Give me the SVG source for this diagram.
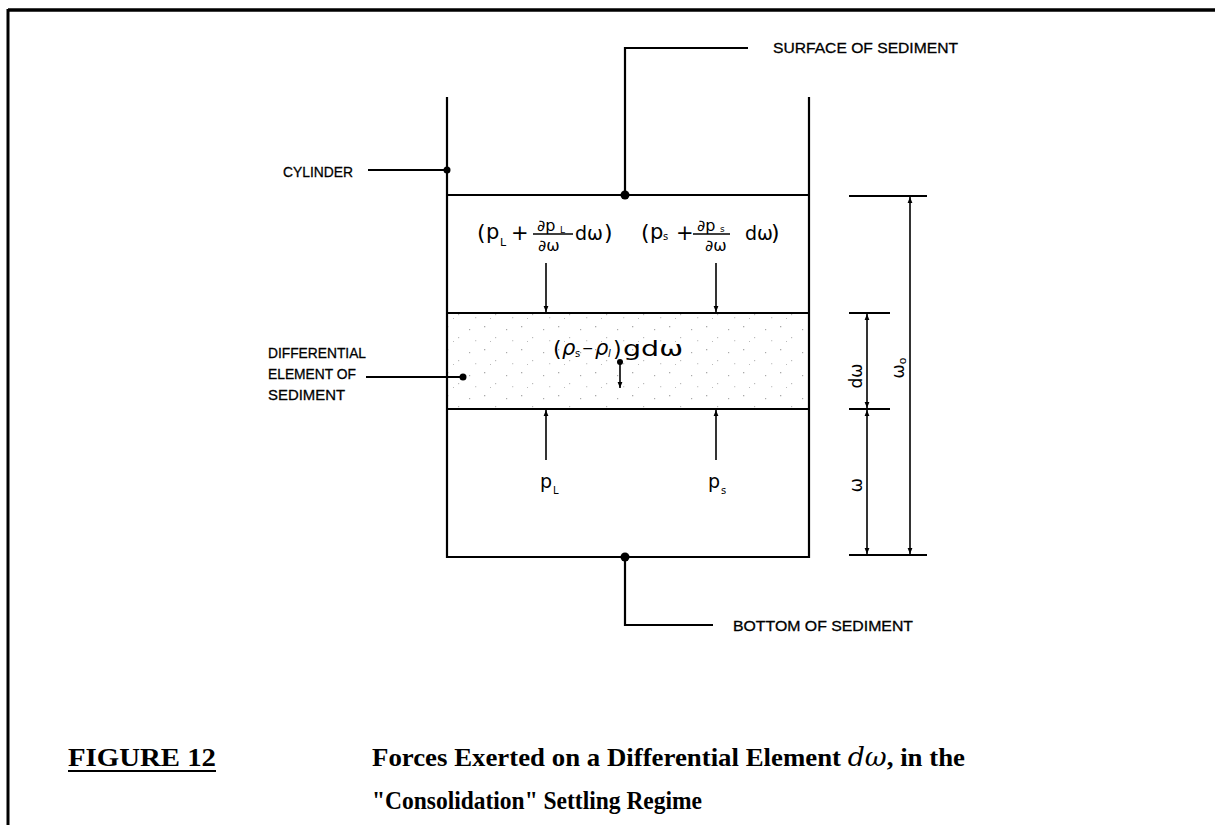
<svg xmlns="http://www.w3.org/2000/svg" width="1215" height="825" viewBox="0 0 1215 825">
<style>
.ln{stroke:#000;stroke-width:2.2;fill:none}
.th{stroke:#000;stroke-width:1.6;fill:none}
.lbl{font-family:"Liberation Sans",Arial,sans-serif;font-size:15px;fill:#000;stroke:#000;stroke-width:0.3}
.mt{font-family:"DejaVu Sans","Liberation Sans",sans-serif;fill:#000}
.cap{font-family:"Liberation Serif","Times New Roman",serif;font-weight:bold;font-size:26px;fill:#000}
</style>
<defs>
<marker id="ah" viewBox="0 0 10 10" refX="10" refY="5" markerWidth="8" markerHeight="6" orient="auto" markerUnits="userSpaceOnUse">
<path d="M0,1 L10,5 L0,9 z" fill="#000"/>
</marker>
<pattern id="stip" width="37" height="23" patternUnits="userSpaceOnUse">
<rect x="3" y="4" width="1.3" height="1.3" fill="#aaa"/>
<rect x="14" y="15" width="1.2" height="1.2" fill="#bbb"/>
<rect x="25" y="7" width="1.2" height="1.2" fill="#aaa"/>
<rect x="31" y="18" width="1.3" height="1.3" fill="#ccc"/>
<rect x="9" y="19" width="1" height="1" fill="#bbb"/>
</pattern>
</defs>
<rect width="1215" height="825" fill="#fff"/>

<g id="frame">
<line x1="8" y1="10" x2="1215" y2="10" stroke="#000" stroke-width="3.5"/>
<line x1="8" y1="9" x2="8" y2="825" stroke="#000" stroke-width="3"/>
</g>

<g id="cylinder">
<rect x="447" y="313" width="362" height="96" fill="url(#stip)"/>
<path class="ln" d="M447,97 V557 H809 V97"/>
<line class="ln" x1="447" y1="195" x2="809" y2="195"/>
<line class="ln" x1="447" y1="313" x2="809" y2="313"/>
<line class="ln" x1="447" y1="409" x2="809" y2="409"/>
</g>

<g id="connectors">
<path class="ln" d="M625,195 V48 H748"/>
<circle cx="625" cy="195" r="4.5" fill="#000"/>
<path class="ln" d="M625,557 V625 H713"/>
<circle cx="625" cy="557" r="4.5" fill="#000"/>
<line class="ln" x1="368" y1="170" x2="447" y2="170"/>
<circle cx="447" cy="170" r="3.5" fill="#000"/>
<line class="ln" x1="366" y1="377" x2="463" y2="377"/>
<circle cx="463" cy="377" r="3.5" fill="#000"/>
<line class="th" x1="546" y1="263" x2="546" y2="312" marker-end="url(#ah)"/>
<line class="th" x1="716" y1="263" x2="716" y2="312" marker-end="url(#ah)"/>
<line class="th" x1="546" y1="460" x2="546" y2="410" marker-end="url(#ah)"/>
<line class="th" x1="716" y1="460" x2="716" y2="410" marker-end="url(#ah)"/>
<circle cx="620" cy="362" r="3" fill="#000"/>
<line class="th" x1="620" y1="362" x2="620" y2="388" marker-end="url(#ah)"/>
<line class="ln" x1="849" y1="196" x2="927" y2="196"/>
<line class="ln" x1="849" y1="313" x2="890" y2="313"/>
<line class="ln" x1="849" y1="409" x2="890" y2="409"/>
<line class="ln" x1="849" y1="555" x2="927" y2="555"/>
<line class="th" x1="910" y1="376" x2="910" y2="197" marker-end="url(#ah)"/>
<line class="th" x1="910" y1="376" x2="910" y2="554" marker-end="url(#ah)"/>
<line class="th" x1="867" y1="361" x2="867" y2="314" marker-end="url(#ah)"/>
<line class="th" x1="867" y1="361" x2="867" y2="408" marker-end="url(#ah)"/>
<line class="th" x1="867" y1="482" x2="867" y2="410" marker-end="url(#ah)"/>
<line class="th" x1="867" y1="482" x2="867" y2="554" marker-end="url(#ah)"/>
</g>

<g id="label-surface"><text class="lbl" x="773" y="53" textLength="185" lengthAdjust="spacingAndGlyphs">SURFACE OF SEDIMENT</text></g>
<g id="label-bottom"><text class="lbl" x="733" y="631" textLength="180" lengthAdjust="spacingAndGlyphs">BOTTOM OF SEDIMENT</text></g>
<g id="label-cylinder"><text class="lbl" x="283" y="177" textLength="70" lengthAdjust="spacingAndGlyphs">CYLINDER</text></g>
<g id="label-differential">
<text class="lbl" x="268" y="358" textLength="98" lengthAdjust="spacingAndGlyphs">DIFFERENTIAL</text>
<text class="lbl" x="268" y="379" textLength="88" lengthAdjust="spacingAndGlyphs">ELEMENT OF</text>
<text class="lbl" x="268" y="400" textLength="77" lengthAdjust="spacingAndGlyphs">SEDIMENT</text>
</g>

<g id="formula-liquid-top">
<text class="mt" x="477" y="240" font-size="22">(</text>
<text class="mt" x="486" y="239" font-size="21">p</text>
<text class="mt" x="500" y="246" font-size="11">L</text>
<text class="mt" x="511" y="240" font-size="21">+</text>
<text class="mt" x="537" y="231" font-size="16">∂p</text>
<text class="mt" x="560" y="233" font-size="9">L</text>
<line x1="533" y1="234" x2="573" y2="234" stroke="#000" stroke-width="1.3"/>
<text class="mt" x="538" y="251" font-size="16">∂ω</text>
<text class="mt" x="575" y="240" font-size="19">dω</text>
<text class="mt" x="604" y="240" font-size="22">)</text>
</g>
<g id="formula-solid-top">
<text class="mt" x="641" y="240" font-size="22">(</text>
<text class="mt" x="650" y="239" font-size="21">p</text>
<text class="mt" x="663" y="240" font-size="10">s</text>
<text class="mt" x="676" y="240" font-size="21">+</text>
<text class="mt" x="697" y="231" font-size="16">∂p</text>
<text class="mt" x="720" y="232" font-size="9">s</text>
<line x1="693" y1="234" x2="730" y2="234" stroke="#000" stroke-width="1.3"/>
<text class="mt" x="705" y="251" font-size="16">∂ω</text>
<text class="mt" x="745" y="240" font-size="19">dω</text>
<text class="mt" x="771" y="240" font-size="22">)</text>
</g>
<g id="formula-gravity">
<text class="mt" x="553" y="356" font-size="22">(</text>
<text class="mt" x="562" y="355" font-size="21" font-style="italic">ρ</text>
<text class="mt" x="575" y="357" font-size="10">s</text>
<text class="mt" x="582" y="353" font-size="14">−</text>
<text class="mt" x="595" y="355" font-size="21" font-style="italic">ρ</text>
<text class="mt" x="608" y="357" font-size="10" font-style="italic">l</text>
<text class="mt" x="613" y="356" font-size="22">)</text>
<text class="mt" x="623" y="356" font-size="22" textLength="60" lengthAdjust="spacingAndGlyphs">gdω</text>
</g>
<g id="label-pL">
<text class="mt" x="540" y="488" font-size="19">p</text>
<text class="mt" x="553" y="494" font-size="10">L</text>
</g>
<g id="label-ps">
<text class="mt" x="708" y="488" font-size="19">p</text>
<text class="mt" x="721" y="494" font-size="10">s</text>
</g>
<g id="dim-labels">
<text class="mt" font-size="17" text-anchor="middle" transform="translate(862,376) rotate(-90)">dω</text>
<text class="mt" font-size="17" text-anchor="middle" transform="translate(904,368) rotate(-90)">ω<tspan font-size="11" dy="2">o</tspan></text>
<text class="mt" font-size="17" text-anchor="middle" transform="translate(862,485) rotate(-90)">ω</text>
</g>

<g id="caption">
<text class="cap" x="68" y="766" textLength="148" lengthAdjust="spacingAndGlyphs">FIGURE 12</text>
<line x1="68" y1="771" x2="216" y2="771" stroke="#000" stroke-width="2"/>
<text class="cap" x="372" y="766" textLength="593" lengthAdjust="spacingAndGlyphs">Forces Exerted on a Differential Element <tspan font-family="DejaVu Serif, serif" font-style="italic" font-weight="normal">dω</tspan>, in the</text>
<text class="cap" x="372" y="809" textLength="330" lengthAdjust="spacingAndGlyphs">"Consolidation" Settling Regime</text>
</g>
</svg>
